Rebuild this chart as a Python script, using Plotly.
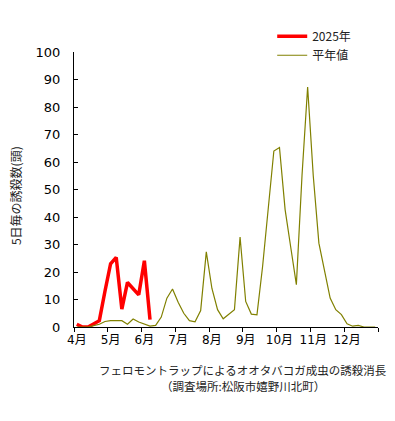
import plotly.graph_objects as go

# 5-day periods from April (6 per month) through December
months = ["4月", "5月", "6月", "7月", "8月", "9月", "10月", "11月", "12月"]
periods = list(range(54))

catch_2025 = [1, 0, 0, 1, 2.3, 13, 23, 25.3, 6.5, 16.2, 14, 11.7, 24.1, 2.7]

catch_normal = [0, 0, 0, 0.5, 1, 2, 2.3, 2.3, 2.3, 1, 2.9, 1.8,
                1, 0.3, 0.6, 3.6, 10.5, 13.8, 9, 5, 2.3, 1.9, 6, 27.3,
                14, 6.3, 3, 4.6, 6.3, 32.7, 9.3, 4.7, 4.4, 22, 42, 64,
                65.3, 42.7, 29, 15.4, 55, 87.3, 55, 30.5, 20.5, 10.5, 6.3, 4.5,
                1.2, 0.3, 0.6, 0, 0, 0]

series_names = ["2025年", "平年値"]
y_title = "5日毎の誘殺数(頭)"
caption1 = "フェロモントラップによるオオタバコガ成虫の誘殺消長"
caption2 = "（調査場所:松阪市嬉野川北町）"

FONT = "DejaVu Sans, Noto Sans CJK JP, sans-serif"
CJK = "Noto Sans CJK JP, sans-serif"

fig = go.Figure()
fig.add_trace(go.Scatter(x=periods[:len(catch_2025)], y=catch_2025, mode="lines",
                         name=series_names[0], line=dict(color="#FF0000", width=3.5)))
fig.add_trace(go.Scatter(x=periods, y=catch_normal, mode="lines",
                         name=series_names[1], line=dict(color="#808000", width=1.2)))

fig.update_layout(
    width=395, height=421,
    margin=dict(l=65.5, r=25, t=44, b=102),
    plot_bgcolor="white", paper_bgcolor="white",
    font=dict(family=FONT, size=12, color="#000"),
    showlegend=True,
    legend=dict(x=0.652, y=1.11, xanchor="left", yanchor="top",
                font=dict(family=CJK, size=12, color="#222"),
                bgcolor="rgba(0,0,0,0)", tracegroupgap=0),
    xaxis=dict(
        range=[-0.5, 53.5],
        tickmode="array", tickvals=[6 * k for k in range(len(months))], ticktext=months,
        ticks="outside", ticklen=2, tickcolor="rgba(0,0,0,0)",
        minor=dict(tickmode="array", tickvals=[-0.5 + 6 * k for k in range(10)],
                   ticks="outside", ticklen=4, tickcolor="black", tickwidth=1),
        showline=True, linecolor="black", linewidth=1,
        showgrid=False, zeroline=False,
        tickfont=dict(family=FONT, size=12, color="#000"),
    ),
    yaxis=dict(
        range=[0, 100], tickmode="linear", tick0=0, dtick=10,
        ticks="inside", ticklen=4, tickcolor="black",
        showline=True, linecolor="black", linewidth=1,
        showgrid=False, zeroline=False,
        ticklabelstandoff=10,
        tickfont=dict(family=FONT, size=13, color="#000"),
    ),
    annotations=[
        dict(text=y_title, x=-0.19, y=0.477, xref="paper", yref="paper",
             textangle=-90, showarrow=False, xanchor="center", yanchor="middle",
             font=dict(family=CJK, size=12, color="#222")),
        dict(text=caption1, x=0.5567, y=-0.155, xref="paper", yref="paper",
             showarrow=False, xanchor="center", yanchor="middle",
             font=dict(family=CJK, size=11.5, color="#222")),
        dict(text=caption2, x=0.5567, y=-0.216, xref="paper", yref="paper",
             showarrow=False, xanchor="center", yanchor="middle",
             font=dict(family=CJK, size=11.5, color="#222")),
    ],
)

fig.write_html("out.html")
